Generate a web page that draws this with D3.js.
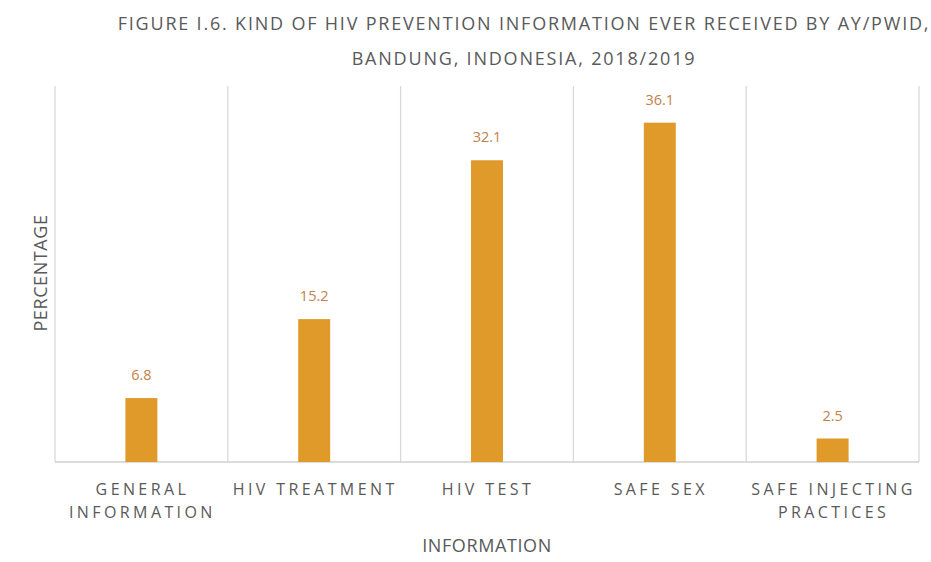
<!DOCTYPE html>
<html>
<head>
<meta charset="utf-8">
<script src="https://cdn.jsdelivr.net/npm/d3@7.9.0/dist/d3.min.js"></script>
<style>
  body { margin: 0; background: #fff; }
  svg { display: block; font-family: 'Open Sans', sans-serif; }
</style>
</head>
<body>
<div id="chart"></div>
<script>
const categories = [
  ['GENERAL', 'INFORMATION'],
  ['HIV TREATMENT'],
  ['HIV TEST'],
  ['SAFE SEX'],
  ['SAFE INJECTING', 'PRACTICES']
];
const values = [6.8, 15.2, 32.1, 36.1, 2.5];
const titleLines = [
  'FIGURE I.6. KIND OF HIV PREVENTION INFORMATION EVER RECEIVED BY AY/PWID,',
  'BANDUNG, INDONESIA, 2018/2019'
];

const width = 931, height = 562;
const margin = { top: 86, right: 12, bottom: 100, left: 55 };
const keys = categories.map(d => d.join(' '));

const svg = d3.select('#chart').append('svg')
  .attr('width', width)
  .attr('height', height);

const x = d3.scaleBand()
  .domain(keys)
  .range([margin.left, width - margin.right])
  .paddingInner(0)
  .paddingOuter(0);

const y = d3.scaleLinear()
  .domain([0, 40])
  .range([height - margin.bottom, margin.top]);

// Vertical gridlines at category boundaries
const bounds = keys.map(k => x(k)).concat([x.range()[1]]);
svg.append('g')
  .selectAll('line')
  .data(bounds)
  .join('line')
  .attr('x1', d => d).attr('x2', d => d)
  .attr('y1', y(40)).attr('y2', y(0))
  .attr('stroke', '#d9d9d9')
  .attr('stroke-width', 1.3);

// Baseline
svg.append('line')
  .attr('x1', x.range()[0]).attr('x2', x.range()[1])
  .attr('y1', y(0)).attr('y2', y(0))
  .attr('stroke', '#d0d0d0')
  .attr('stroke-width', 1.5);

// Bars
const barW = 32;
svg.append('g')
  .selectAll('rect')
  .data(values)
  .join('rect')
  .attr('x', (d, i) => x(keys[i]) + x.bandwidth() / 2 - barW / 2)
  .attr('y', d => y(d))
  .attr('width', barW)
  .attr('height', d => y(0) - y(d))
  .attr('fill', '#e09a29');

// Value labels
svg.append('g')
  .selectAll('text')
  .data(values)
  .join('text')
  .attr('x', (d, i) => x(keys[i]) + x.bandwidth() / 2)
  .attr('y', d => y(d) - 18)
  .attr('text-anchor', 'middle')
  .attr('font-size', 14.5)
  .attr('fill', '#c0824a')
  .text(d => d.toFixed(1));

// Category labels
const catG = svg.append('g');
categories.forEach((lines, i) => {
  lines.forEach((ln, j) => {
    catG.append('text')
      .attr('x', x(keys[i]) + x.bandwidth() / 2 + 1)
      .attr('y', 495 + j * 23)
      .attr('text-anchor', 'middle')
      .attr('font-size', 16)
      .attr('letter-spacing', 3.4)
      .attr('fill', '#595959')
      .text(ln);
  });
});

// Title
svg.append('g')
  .selectAll('text')
  .data(titleLines)
  .join('text')
  .attr('x', 524)
  .attr('y', (d, i) => 30 + i * 35)
  .attr('text-anchor', 'middle')
  .attr('font-size', 18)
  .attr('letter-spacing', 1.8)
  .attr('fill', '#595959')
  .text(d => d);

// Axis titles
svg.append('text')
  .attr('x', 487)
  .attr('y', 552)
  .attr('text-anchor', 'middle')
  .attr('font-size', 18)
  .attr('letter-spacing', 0.6)
  .attr('fill', '#595959')
  .text('INFORMATION');

svg.append('text')
  .attr('transform', 'translate(47,273) rotate(-90)')
  .attr('text-anchor', 'middle')
  .attr('font-size', 18)
  .attr('letter-spacing', 0.6)
  .attr('fill', '#595959')
  .text('PERCENTAGE');
</script>
</body>
</html>
